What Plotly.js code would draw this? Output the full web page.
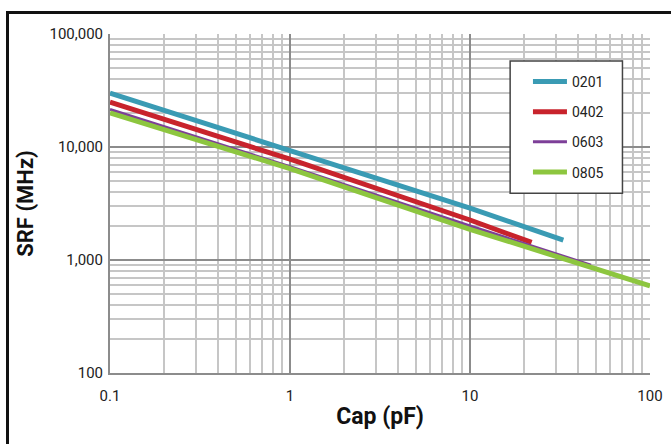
<!DOCTYPE html>
<html>
<head>
<meta charset="utf-8">
<script src="https://cdn.plot.ly/plotly-3.0.1.min.js"></script>
<style>
  html, body { margin:0; padding:0; background:#fff; overflow:hidden; }
  #frame { position:absolute; left:6px; top:11px; width:720px; height:520px; border:3px solid #111; box-sizing:border-box; }
  #chart { position:absolute; left:0; top:0; width:671px; height:444px; }
</style>
</head>
<body>
<div id="frame"></div>
<div id="chart"></div>
<script>
// Data (Cap in pF, SRF in MHz)
const seriesNames = ["0201", "0402", "0603", "0805"];
const cap0201 = [0.1, 1, 10, 33];
const srf0201 = [30000, 9200, 2880, 1500];
const cap0402 = [0.1, 1, 10, 22];
const srf0402 = [25000, 7800, 2260, 1430];
const cap0603 = [0.1, 1, 10, 47];
const srf0603 = [21500, 6700, 2000, 900];
const cap0805 = [0.1, 1, 10, 100];
const srf0805 = [20000, 6450, 1870, 590];

const xTickVals = [0.1, 1, 10, 100];
const xTickText = ["0.1", "1", "10", "100"];
const yTickVals = [100, 1000, 10000, 100000];
const yTickText = ["100", "1,000", "10,000", "100,000"];

const colors = ["#3a9bb4", "#c8232c", "#7d3f98", "#8dc63f"];
const widths = [5, 5, 3, 5];

function minorVals(lo, hi) {
  const out = [];
  for (let d = lo; d < hi; d *= 10) {
    for (let k = 2; k <= 9; k++) out.push(d * k);
  }
  return out;
}

const xs = [cap0201, cap0402, cap0603, cap0805];
const ys = [srf0201, srf0402, srf0603, srf0805];

const traces = seriesNames.map((n, i) => ({
  x: xs[i], y: ys[i], name: n, type: "scatter", mode: "lines",
  legendgroup: "g" + i,
  line: { color: colors[i], width: widths[i] },
  hoverinfo: "skip"
}));

const tickFont = { family: "Roboto, sans-serif", size: 15, color: "#222" };

const layout = {
  width: 671, height: 444,
  margin: { l: 110, r: 21, t: 34, b: 71 },
  paper_bgcolor: "rgba(0,0,0,0)",
  plot_bgcolor: "#fff",
  showlegend: true,
  legend: {
    x: 0.774, y: 0.906, xanchor: "left", yanchor: "top",
    bgcolor: "rgba(0,0,0,0)", borderwidth: 0,
    font: { family: "Roboto, sans-serif", size: 14, color: "#222" },
    tracegroupgap: 9, itemwidth: 34
  },
  xaxis: {
    type: "log", range: [-1, 2],
    tickvals: xTickVals, ticktext: xTickText,
    tickfont: tickFont, ticks: "", ticklen: 0, ticklabelstandoff: 8,
    showgrid: true, gridcolor: "#8c8c8c", gridwidth: 2,
    minor: { tickvals: minorVals(0.1, 100), showgrid: true, gridcolor: "#c6c6c6", gridwidth: 2, ticks: "" },
    showline: true, linecolor: "#8c8c8c", linewidth: 2,
    zeroline: false,
    title: { text: "Cap (pF)", font: { family: "Roboto, sans-serif", size: 23, color: "#111", weight: "bold" }, standoff: 4 }
  },
  yaxis: {
    type: "log", range: [2, 5],
    tickvals: yTickVals, ticktext: yTickText,
    tickfont: tickFont, ticks: "", ticklen: 0, ticklabelstandoff: 2,
    showgrid: true, gridcolor: "#8c8c8c", gridwidth: 2,
    minor: { tickvals: minorVals(100, 100000), showgrid: true, gridcolor: "#c6c6c6", gridwidth: 2, ticks: "" },
    showline: true, linecolor: "#8c8c8c", linewidth: 2,
    zeroline: false,
    title: { text: "SRF (MHz)", font: { family: "Roboto, sans-serif", size: 22, color: "#111", weight: "bold" }, standoff: 10 }
  },
  shapes: [
    { type: "rect", xref: "paper", yref: "paper", x0: 0.741, x1: 0.949, y0: 0.53, y1: 0.92,
      line: { color: "#444", width: 1.5 }, fillcolor: "#fff", layer: "above" }
  ]
};

Plotly.newPlot("chart", traces, layout, { displayModeBar: false, staticPlot: true });
</script>
</body>
</html>
